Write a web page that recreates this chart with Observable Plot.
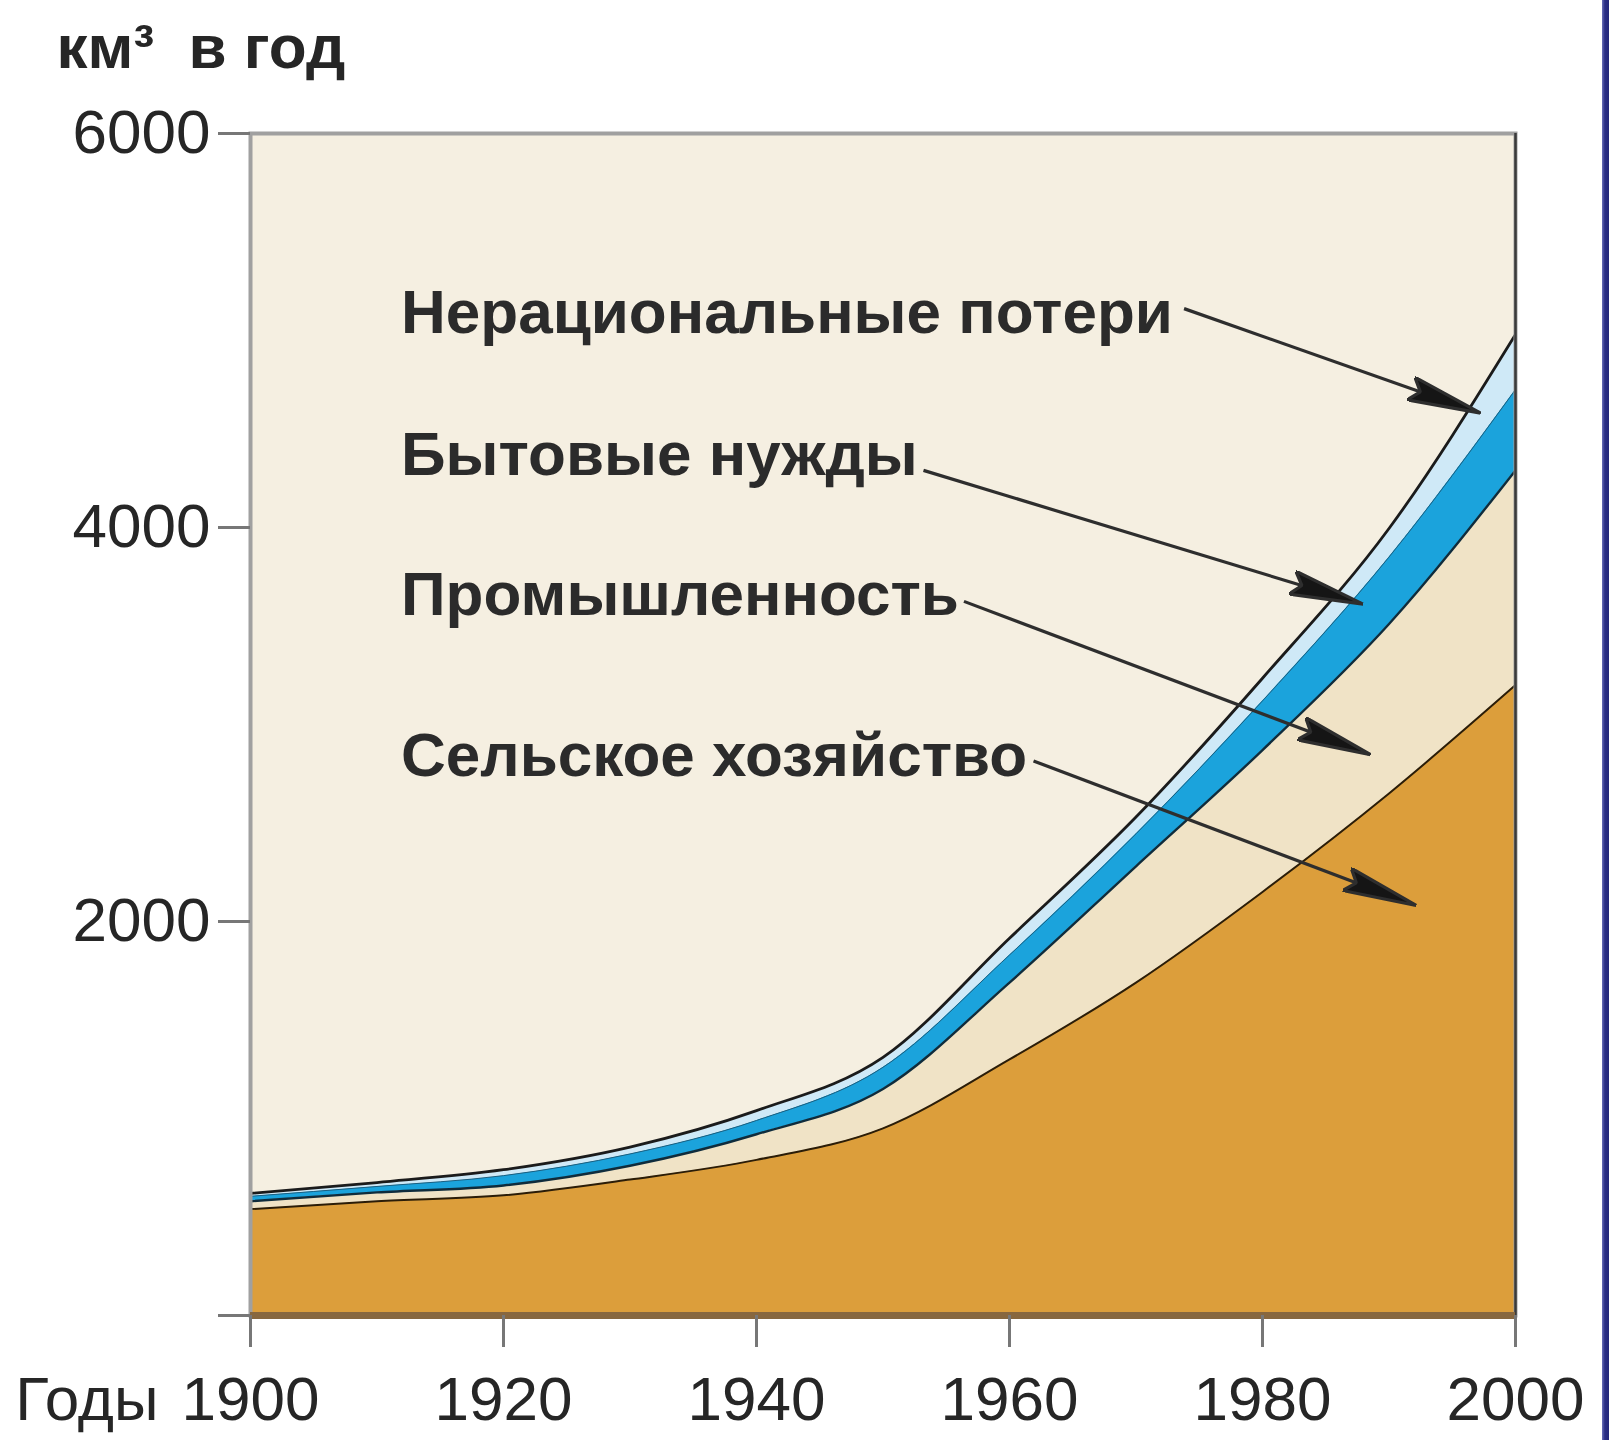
<!DOCTYPE html>
<html><head><meta charset="utf-8">
<script src="https://cdn.jsdelivr.net/npm/d3@7"></script>
<script src="https://cdn.jsdelivr.net/npm/@observablehq/plot@0.6"></script>
<style>
html,body{margin:0;padding:0;background:#fff;}
#chart{position:relative;width:1609px;height:1440px;overflow:hidden;}
#edge{position:absolute;right:0;top:0;width:7px;height:1440px;background:linear-gradient(to right,#6a70b8,#2b2f86 40%,#23277a);}
svg{overflow:visible;}
</style></head><body>
<div id="chart"><div id="edge"></div></div>
<script>
// ---- data (km³ per year) ----
const years       = [1900, 1910, 1920, 1930, 1940, 1950, 1960, 1970, 1980, 1990, 2000];
const agriculture = [540, 580, 610, 690, 790, 950, 1300, 1690, 2150, 2650, 3200];
const industry    = [40, 45, 50, 70, 130, 200, 390, 590, 720, 860, 1090];
const domestic    = [25, 30, 50, 60, 70, 110, 140, 165, 250, 340, 410];
const losses      = [15, 20, 30, 35, 50, 50, 85, 85, 115, 145, 280];

const xTicks = [1900, 1920, 1940, 1960, 1980, 2000];
const yTicks = [0, 2000, 4000, 6000];
const yTitle = "км³\u00a0 в год";
const xPrefix = "Годы";

// annotation labels and their arrows (in data units)
const labelNames  = ["Нерациональные потери", "Бытовые нужды", "Промышленность", "Сельское хозяйство"];
const labelYear   = 1911.9;
const labelValues = [4985, 4269, 3558, 2741];
const arrowX1 = [1973.8, 1953.2, 1956.4, 1961.9];
const arrowY1 = [5111, 4290, 3625, 2815];
const arrowX2 = [1997.1, 1987.8, 1988.4, 1992.0];
const arrowY2 = [4584, 3614, 2850, 2085];

// ---- derived table ----
const rows = years.map((year, i) => {
  const agri = agriculture[i];
  const indTop = agri + industry[i];
  const domTop = indTop + domestic[i];
  const total = domTop + losses[i];
  return {year, agri, indTop, domTop, total};
});
const labels = labelNames.map((name, i) => ({name, year: labelYear, value: labelValues[i]}));
const arrows = labelNames.map((name, i) => ({x1: arrowX1[i], y1: arrowY1[i], x2: arrowX2[i], y2: arrowY2[i]}));

const C = {
  bg: "#f5efe1", industry: "#f0e3c6", agri: "#dc9e3b",
  domestic: "#1ba3dc", losses: "#cfe9f7", text: "#262626"
};
const curve = "monotone-x";
const font = "'Liberation Sans', Arial, Helvetica, sans-serif";

function headMarker(color, context) {
  const ns = "http://www.w3.org/2000/svg";
  const doc = (context && context.document) || document;
  const m = doc.createElementNS(ns, "marker");
  m.setAttribute("viewBox", "0 -13 74 26");
  m.setAttribute("markerWidth", 74);
  m.setAttribute("markerHeight", 26);
  m.setAttribute("refX", 72);
  m.setAttribute("refY", 0);
  m.setAttribute("orient", "auto");
  m.setAttribute("markerUnits", "userSpaceOnUse");
  const p = doc.createElementNS(ns, "path");
  p.setAttribute("d", "M0,-12L74,0L0,12L10,0Z");
  p.setAttribute("fill", "#151515");
  m.appendChild(p);
  return m;
}

function build(useMarker) {
  const arrowMark = useMarker
    ? Plot.link(arrows, {x1: "x1", y1: "y1", x2: "x2", y2: "y2", stroke: "#2e2e2e", strokeWidth: 3.2, markerEnd: headMarker})
    : Plot.arrow(arrows, {x1: "x1", y1: "y1", x2: "x2", y2: "y2", stroke: "#222", strokeWidth: 3, headLength: 40, headAngle: 30});
  return Plot.plot({
    width: 1609,
    height: 1440,
    marginLeft: 250,
    marginRight: 94,
    marginTop: 133,
    marginBottom: 125,
    x: {domain: [1900, 2000]},
    y: {domain: [0, 6000]},
    style: {fontFamily: font, fontSize: "62px", color: C.text, background: "transparent", overflow: "visible"},
    marks: [
      Plot.frame({fill: C.bg, stroke: null}),
      Plot.areaY(rows, {x: "year", y1: 0, y2: "agri", fill: C.agri, curve}),
      Plot.areaY(rows, {x: "year", y1: "agri", y2: "indTop", fill: C.industry, curve}),
      Plot.areaY(rows, {x: "year", y1: "indTop", y2: "domTop", fill: C.domestic, curve}),
      Plot.areaY(rows, {x: "year", y1: "domTop", y2: "total", fill: C.losses, curve}),
      Plot.lineY(rows, {x: "year", y: "agri", stroke: "#2b1d08", strokeWidth: 2, curve}),
      Plot.lineY(rows, {x: "year", y: "indTop", stroke: "#0f2c3c", strokeWidth: 2.4, curve}),
      Plot.lineY(rows, {x: "year", y: "domTop", stroke: "#1c5f80", strokeWidth: 1, curve}),
      Plot.lineY(rows, {x: "year", y: "total", stroke: "#1b1b1b", strokeWidth: 2.8, curve}),
      Plot.frame({stroke: "#a0a0a0", strokeWidth: 4}),
      Plot.ruleX([2000], {stroke: "#3a3a3a", strokeWidth: 2.5}),
      Plot.ruleY([0], {stroke: "#87673f", strokeWidth: 7}),
      Plot.axisY({ticks: yTicks, tickSize: 32, tickPadding: 8, stroke: "#777", strokeWidth: 3,
        fill: C.text, fontSize: 62, label: null, tickFormat: d => d === 0 ? "" : String(d)}),
      Plot.axisX({ticks: xTicks, tickSize: 32, tickPadding: 28, stroke: "#777", strokeWidth: 3,
        fill: C.text, fontSize: 62, label: null, tickFormat: d => String(d)}),
      Plot.text([yTitle], {frameAnchor: "top-left", dx: -194, dy: -66, textAnchor: "start", lineAnchor: "bottom",
        fontWeight: "bold", fontSize: 62, fill: C.text}),
      Plot.text([xPrefix], {frameAnchor: "bottom-left", dx: -92, dy: 60, textAnchor: "end", lineAnchor: "top",
        fontSize: 62, fill: C.text}),
      arrowMark,
      Plot.text(labels, {x: "year", y: "value", text: "name", textAnchor: "start", lineAnchor: "bottom",
        fontWeight: "bold", fontSize: 62, fill: "#2b2b2b"})
    ]
  });
}

let chart;
try { chart = build(true); } catch (e) { chart = build(false); }
document.getElementById("chart").prepend(chart);
</script></body></html>
